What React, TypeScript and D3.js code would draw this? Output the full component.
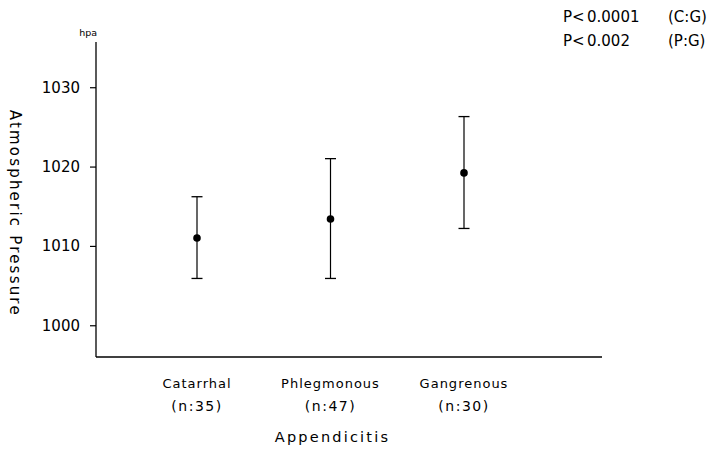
import { useEffect, useRef } from 'react'
import * as d3 from 'd3'

const categories = ['Catarrhal', 'Phlegmonous', 'Gangrenous']
const counts = ['(n:35)', '(n:47)', '(n:30)']
const means = [1011.0, 1013.4, 1019.2]
const upper = [1016.2, 1021.0, 1026.3]
const lower = [1005.9, 1005.9, 1012.2]
const yTicks = [1000, 1010, 1020, 1030]
const pLabels = ['P<', 'P<']
const pValues = ['0.0001', '0.002']
const pPairs = ['(C:G)', '(P:G)']

const FONT = '"DejaVu Sans", "Liberation Sans", sans-serif'

export default function App() {
  const svgRef = useRef<SVGSVGElement>(null)

  useEffect(() => {
    if (!svgRef.current) return
    const svg = d3.select(svgRef.current)
    svg.selectAll('*').remove()

    const left = 96
    const right = 602
    const top = 42
    const bottom = 357

    const y = d3.scaleLinear().domain([996, 1035.7]).range([bottom, top])
    const x = d3
      .scalePoint<string>()
      .domain(categories)
      .range([left + 101, left + 368])

    // axes lines
    svg
      .append('line')
      .attr('x1', left)
      .attr('x2', left)
      .attr('y1', top)
      .attr('y2', bottom)
      .attr('stroke', '#000')
      .attr('stroke-width', 1.3)
    svg
      .append('line')
      .attr('x1', left)
      .attr('x2', right)
      .attr('y1', bottom)
      .attr('y2', bottom)
      .attr('stroke', '#000')
      .attr('stroke-width', 1.3)

    const yAxis = svg
      .append('g')
      .attr('transform', `translate(${left},0)`)
      .call(
        d3
          .axisLeft(y)
          .tickValues(yTicks)
          .tickSize(6)
          .tickSizeOuter(0)
          .tickPadding(10)
          .tickFormat(d3.format('d'))
      )
    yAxis.select('.domain').remove()
    yAxis.selectAll('line').attr('stroke', '#000').attr('stroke-width', 1.2)
    yAxis
      .selectAll('text')
      .attr('fill', '#000')
      .attr('font-family', FONT)
      .attr('font-size', 15)

    // unit
    svg
      .append('text')
      .attr('x', left + 1)
      .attr('y', 36)
      .attr('text-anchor', 'end')
      .attr('font-family', FONT)
      .attr('font-size', 9.5)
      .text('hpa')

    // y axis title
    svg
      .append('text')
      .attr('transform', `translate(10,${(y(1000) + y(1030)) / 2 + 7}) rotate(90)`)
      .attr('text-anchor', 'middle')
      .attr('font-family', FONT)
      .attr('font-size', 15)
      .attr('letter-spacing', 2.2)
      .text('Atmospheric Pressure')

    // error bars
    const g = svg.append('g')
    categories.forEach((c, i) => {
      const cx = x(c) ?? 0
      g.append('line')
        .attr('x1', cx)
        .attr('x2', cx)
        .attr('y1', y(upper[i]))
        .attr('y2', y(lower[i]))
        .attr('stroke', '#000')
        .attr('stroke-width', 1.2)
      ;[upper[i], lower[i]].forEach((v) => {
        g.append('line')
          .attr('x1', cx - 5.5)
          .attr('x2', cx + 5.5)
          .attr('y1', y(v))
          .attr('y2', y(v))
          .attr('stroke', '#000')
          .attr('stroke-width', 1.3)
      })
      g.append('circle')
        .attr('cx', cx)
        .attr('cy', y(means[i]))
        .attr('r', 3.8)
        .attr('fill', '#000')
    })

    // category labels
    categories.forEach((c, i) => {
      const cx = x(c) ?? 0
      svg
        .append('text')
        .attr('x', cx)
        .attr('y', 388)
        .attr('text-anchor', 'middle')
        .attr('font-family', FONT)
        .attr('font-size', 13)
        .attr('letter-spacing', 1)
        .text(c)
      svg
        .append('text')
        .attr('x', cx)
        .attr('y', 411)
        .attr('text-anchor', 'middle')
        .attr('font-family', FONT)
        .attr('font-size', 14)
        .attr('letter-spacing', 1.5)
        .text(counts[i])
    })

    svg
      .append('text')
      .attr('x', (x(categories[0])! + x(categories[2])!) / 2 + 2)
      .attr('y', 442)
      .attr('text-anchor', 'middle')
      .attr('font-family', FONT)
      .attr('font-size', 14.5)
      .attr('letter-spacing', 2.2)
      .text('Appendicitis')

    // p values
    pValues.forEach((p, i) => {
      const ty = 22 + i * 24
      const t = svg
        .append('text')
        .attr('y', ty)
        .attr('font-family', FONT)
        .attr('font-size', 15)
      t.append('tspan').attr('x', 563).text(pLabels[i])
      t.append('tspan').attr('x', 587).text(p)
      t.append('tspan').attr('x', 668).text(pPairs[i])
    })
  }, [])

  return (
    <svg
      ref={svgRef}
      width={716}
      height={450}
      viewBox="0 0 716 450"
      style={{ position: 'absolute', left: 0, top: 0, background: '#fff' }}
    />
  )
}
